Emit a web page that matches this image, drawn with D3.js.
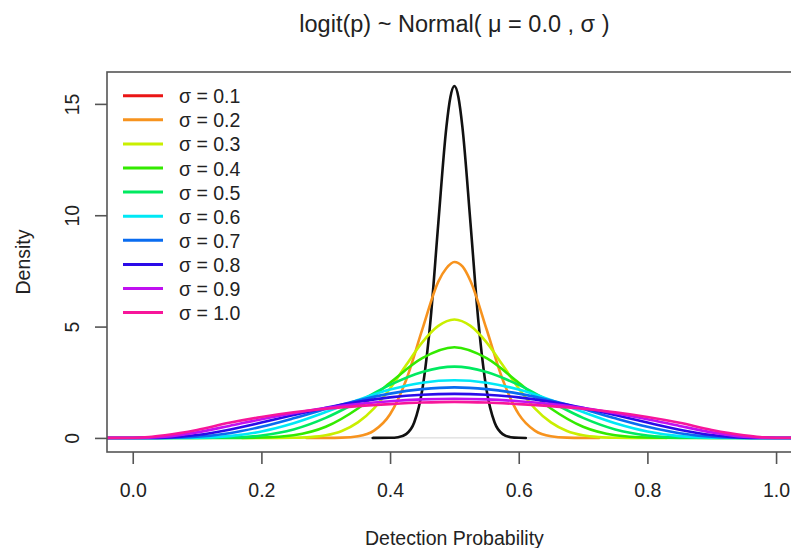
<!DOCTYPE html>
<html><head><meta charset="utf-8">
<script src="https://cdn.jsdelivr.net/npm/d3@7"></script>
<style>
body{margin:0;background:#fff}
svg{display:block}
text{font-family:"Liberation Sans",Arial,Helvetica,sans-serif;fill:#222}
</style>
</head><body>
<svg id="chart" width="791" height="548"></svg>
<script>
// ---- data ----
const sigmaLabels = ["σ = 0.1","σ = 0.2","σ = 0.3","σ = 0.4","σ = 0.5","σ = 0.6","σ = 0.7","σ = 0.8","σ = 0.9","σ = 1.0"];
const legendColors = ["#ea1515","#f7931e","#c9ef00","#33ea00","#00ea60","#00e8f5","#0a6cf0","#2a0be8","#c010f0","#f7169a"];
const curveColors  = ["#111111","#f7931e","#c9ef00","#33ea00","#00ea60","#00e8f5","#0a6cf0","#2a0be8","#c010f0","#f7169a"];

const x01 = [0.373,0.4,0.4125,0.425,0.4375,0.45,0.4625,0.475,0.4875,0.49375,0.5,0.50625,0.5125,0.525,0.5375,0.55,0.5625,0.575,0.5875,0.6,0.611];
const dens01 = [0,0.005,0.032,0.17,0.69,2.15,5.17,9.65,13.95,15.3,15.8,15.3,13.95,9.65,5.17,2.15,0.69,0.17,0.032,0.005,0];

const x02 = [0.27,0.3,0.325,0.35,0.375,0.4,0.425,0.45,0.475,0.4875,0.5,0.5125,0.525,0.55,0.575,0.6,0.625,0.65,0.675,0.7,0.725];
const dens02 = [0,0.002,0.012,0.073,0.326,1.06,2.60,4.86,7.02,7.62,7.90,7.70,7.05,4.88,2.62,1.07,0.33,0.074,0.012,0.002,0];

const x03 = [0.17,0.2,0.225,0.25,0.275,0.3,0.325,0.35,0.375,0.4,0.425,0.45,0.475,0.5,0.525,0.55,0.575,0.6,0.625,0.65,0.675,0.7,0.725,0.75,0.775,0.8,0.83];
const dens03 = [0,0.0005,0.0016,0.009,0.036,0.117,0.312,0.696,1.33,2.22,3.27,4.29,5.03,5.32,5.03,4.29,3.27,2.22,1.33,0.696,0.312,0.117,0.036,0.009,0.0016,0.0005,0];

const xWide = [-0.05,0,0.025,0.05,0.1,0.15,0.2,0.25,0.3,0.35,0.4,0.45,0.5,0.55,0.6,0.65,0.7,0.75,0.8,0.85,0.9,0.95,0.975,1.0,1.05];
const dens04 = [0,0,0,0,0,0.001,0.016,0.12,0.50,1.32,2.48,3.58,4.07,3.58,2.48,1.32,0.50,0.12,0.016,0.001,0,0,0,0,0];
const dens05 = [0,0,0,0,0.001,0.016,0.11,0.38,0.90,1.62,2.38,2.96,3.20,2.96,2.38,1.62,0.90,0.38,0.11,0.016,0.001,0,0,0,0];
const dens06 = [0,0,0,0,0.01,0.08,0.29,0.66,1.16,1.70,2.17,2.48,2.59,2.48,2.17,1.70,1.16,0.66,0.29,0.08,0.01,0,0,0,0];
const dens07 = [0,0,0,0.003,0.05,0.21,0.50,0.88,1.30,1.68,1.99,2.19,2.27,2.19,1.99,1.68,1.30,0.88,0.50,0.21,0.05,0.003,0,0,0];
const dens08 = [0,0,0.002,0.015,0.13,0.37,0.69,1.03,1.35,1.62,1.82,1.94,1.98,1.94,1.82,1.62,1.35,1.03,0.69,0.37,0.13,0.015,0.002,0,0];
const dens09 = [0,0.002,0.01,0.05,0.25,0.54,0.84,1.11,1.34,1.52,1.65,1.73,1.76,1.73,1.65,1.52,1.34,1.11,0.84,0.54,0.25,0.05,0.01,0.002,0];
const dens10 = [0,0.01,0.04,0.12,0.36,0.68,0.94,1.15,1.31,1.43,1.52,1.59,1.62,1.59,1.52,1.43,1.31,1.15,0.94,0.68,0.36,0.12,0.04,0.01,0];

const xTicks = [0,0.2,0.4,0.6,0.8,1.0];
const xTickLabels = ["0.0","0.2","0.4","0.6","0.8","1.0"];
const yTicks = [0,5,10,15];
const yTickLabels = ["0","5","10","15"];
const titleText = "logit(p) ~ Normal( μ = 0.0 , σ )";
const xTitle = "Detection Probability";
const yTitle = "Density";

// ---- build ----
(function(){
const seriesX = [x01,x02,x03,xWide,xWide,xWide,xWide,xWide,xWide,xWide];
const seriesY = [dens01,dens02,dens03,dens04,dens05,dens06,dens07,dens08,dens09,dens10];
const series = seriesY.map((ys,i)=>ys.map((v,j)=>({x:seriesX[i][j],y:v})));

const svg = d3.select("#chart");
const pL = 107, pR = 801.8, pT = 72, pB = 452;
const x = d3.scaleLinear().domain([-0.04,1.04]).range([pL,pR]);
const y = d3.scaleLinear().domain([-0.632,16.432]).range([pB,pT]);

svg.append("defs").append("clipPath").attr("id","plotclip")
  .append("rect").attr("x",pL).attr("y",pT).attr("width",pR-pL).attr("height",pB-pT);

const plot = svg.append("g").attr("clip-path","url(#plotclip)");
plot.append("line").attr("x1",pL).attr("x2",pR).attr("y1",y(0)).attr("y2",y(0))
  .attr("stroke","#dddddd").attr("stroke-width",1.2);

const line = d3.line().x(d=>x(d.x)).y(d=>y(d.y)).curve(d3.curveMonotoneX);
series.forEach((s,i)=>{
  plot.append("path").datum(s).attr("d",line).attr("fill","none")
    .attr("stroke",curveColors[i]).attr("stroke-width",2.6)
    .attr("stroke-linejoin","round").attr("stroke-linecap","round");
});

// box
svg.append("rect").attr("x",pL).attr("y",pT).attr("width",pR-pL).attr("height",pB-pT)
  .attr("fill","none").attr("stroke","#555").attr("stroke-width",1.6);

// x axis
const xAxis = d3.axisBottom(x).tickValues(xTicks).tickFormat((d,i)=>xTickLabels[i]).tickSize(12);
const gx = svg.append("g").attr("transform",`translate(0,${pB})`).call(xAxis);
gx.select(".domain").remove();
gx.selectAll(".tick line").attr("stroke","#555").attr("stroke-width",1.6);
gx.selectAll(".tick text").attr("font-size","19.5px").attr("fill","#222")
  .attr("font-family","Liberation Sans, Arial, sans-serif").attr("dy",null).attr("y",45);

// y axis
const yAxis = d3.axisLeft(y).tickValues(yTicks).tickFormat((d,i)=>yTickLabels[i]).tickSize(12);
const gy = svg.append("g").attr("transform",`translate(${pL},0)`).call(yAxis);
gy.select(".domain").remove();
gy.selectAll(".tick line").attr("stroke","#555").attr("stroke-width",1.6);
gy.selectAll(".tick text").attr("font-size","19.5px").attr("fill","#222")
  .attr("font-family","Liberation Sans, Arial, sans-serif")
  .attr("x",null).attr("dy",null).attr("text-anchor","middle")
  .attr("transform","translate(-28,0) rotate(-90)");

// titles
const cx = (pL+pR)/2;
svg.append("text").attr("x",cx).attr("y",32).attr("text-anchor","middle")
  .attr("font-size","23.5px").text(titleText);
svg.append("text").attr("x",cx).attr("y",545).attr("text-anchor","middle")
  .attr("font-size","19.5px").text(xTitle);
svg.append("text").attr("transform",`translate(30,${(pT+pB)/2}) rotate(-90)`).attr("text-anchor","middle")
  .attr("font-size","19.5px").text(yTitle);

// legend
const lg = svg.append("g");
sigmaLabels.forEach((lab,i)=>{
  const yy = 95.7 + i*24.1;
  lg.append("line").attr("x1",123).attr("x2",163).attr("y1",yy).attr("y2",yy)
    .attr("stroke",legendColors[i]).attr("stroke-width",3);
  lg.append("text").attr("x",179).attr("y",yy+7.5).attr("font-size","19.5px").text(lab);
});
})();
</script>
</body></html>
